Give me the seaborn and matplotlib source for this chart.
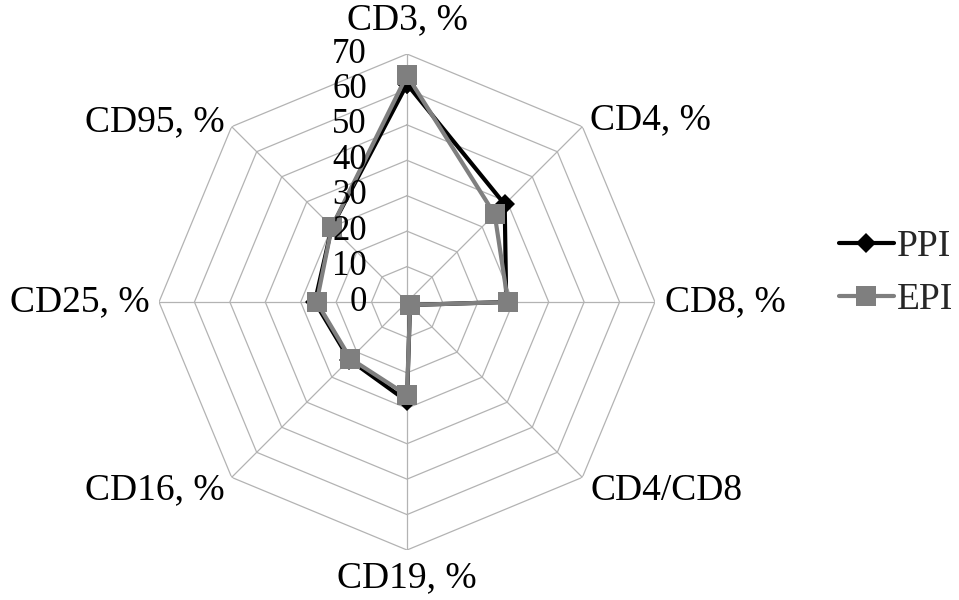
import numpy as np
import pandas as pd
import matplotlib
matplotlib.use("Agg")
import matplotlib.pyplot as plt
import seaborn as sns

categories = ["CD3, %", "CD4, %", "CD8, %", "CD4/CD8",
              "CD19, %", "CD16, %", "CD25, %", "CD95, %"]
ppi = [61.5, 39, 28, 1.2, 28, 23, 26, 30]
epi = [64, 35, 28.5, 1.2, 26.3, 22.6, 25.5, 30]
ticks = [0, 10, 20, 30, 40, 50, 60, 70]

sns.set_theme(style="white")
plt.rcParams["font.family"] = ["Liberation Serif", "DejaVu Serif"]

fig = plt.figure(figsize=(9.59, 6.0), dpi=100)
ax = fig.add_axes([0.1658, 0.0833, 0.5172, 0.8267], projection="polar")
ax.set_theta_offset(np.pi / 2)
ax.set_theta_direction(-1)

n = len(categories)
theta = np.linspace(0, 2 * np.pi, n, endpoint=False)
closed = np.append(theta, 2 * np.pi)

# octagonal grid + spokes
grid_kw = dict(color="#b3b3b3", lw=0.9, zorder=1)
for t in ticks[1:]:
    ax.plot(closed, [t] * (n + 1), **grid_kw)
for th in theta:
    ax.plot([th, th], [0, ticks[-1]], **grid_kw)

df = pd.DataFrame({
    "theta": np.concatenate([closed, closed]),
    "value": ppi + ppi[:1] + epi + epi[:1],
    "series": ["PPI"] * (n + 1) + ["EPI"] * (n + 1),
})

styles = {"PPI": dict(color="black", marker="D", markersize=10),
          "EPI": dict(color="#7f7f7f", marker="s", markersize=14)}
for name, st in styles.items():
    sub = df[df["series"] == name]
    sns.lineplot(data=sub, x="theta", y="value", sort=False, ax=ax,
                 color=st["color"], marker=st["marker"],
                 markersize=st["markersize"], markeredgewidth=0,
                 linewidth=3, label=name, legend=False, zorder=3)

ax.set_ylim(0, ticks[-1])
ax.grid(False)
ax.spines["polar"].set_visible(False)
ax.set_xticks([])
ax.set_yticks([])
ax.set_xlabel("")
ax.set_ylabel("")
ax.set_facecolor("none")

# radial value labels along the top spoke
for t in ticks:
    ax.annotate(str(t), xy=(0, t), xytext=(-40, 0), textcoords="offset pixels",
                ha="right", va="center", fontsize=25, color="black")

# category labels
offsets = [((0, 34), "center"), ((8, 7), "left"), ((10, 0), "left"),
           ((8, -13), "left"), ((0, -28), "center"), ((-7, -13), "right"),
           ((-9, 0), "right"), ((-7, 5), "right")]
for th, lab, (off, ha) in zip(theta, categories, offsets):
    ax.annotate(lab, xy=(th, ticks[-1]), xytext=off, textcoords="offset pixels",
                ha=ha, va="center", fontsize=27, color="black",
                annotation_clip=False)

handles = ax.get_lines()[-2:]
fig.legend(handles, ["PPI", "EPI"], loc="center left",
           bbox_to_anchor=(0.875, 0.544), frameon=False, fontsize=27,
           handlelength=1.45, handletextpad=0.1, borderpad=0,
           borderaxespad=0, labelspacing=0.5)

fig.savefig("out.png", dpi=100)
